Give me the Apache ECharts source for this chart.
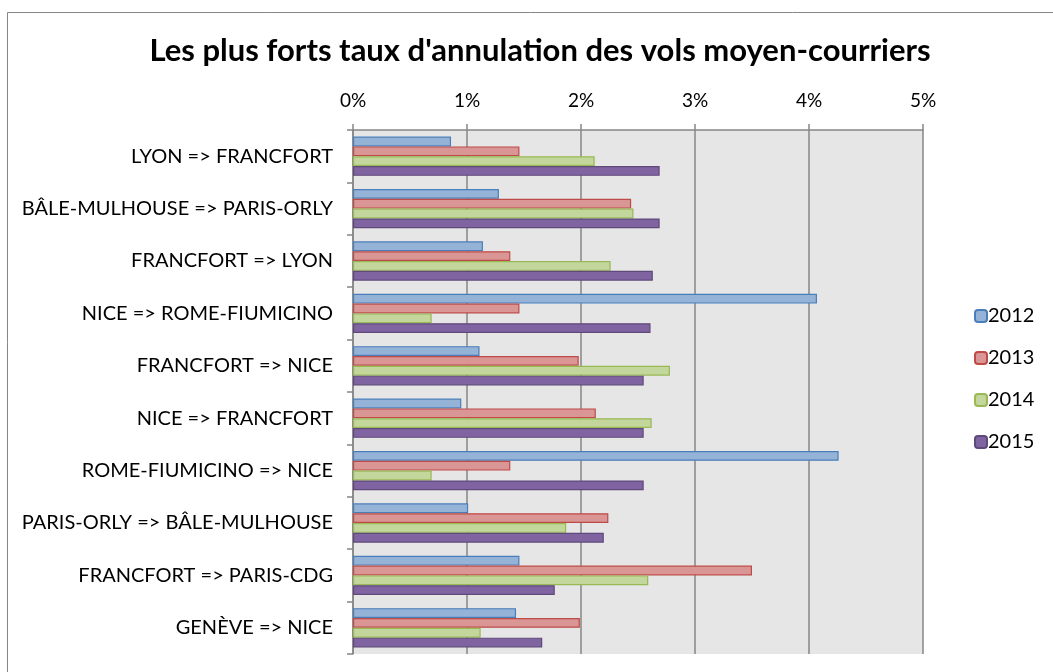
<!DOCTYPE html>
<html>
<head>
<meta charset="utf-8">
<script src="https://cdn.jsdelivr.net/npm/echarts@6/dist/echarts.min.js"></script>
<style>
html,body{margin:0;padding:0;background:#fff;}
#c{width:1053px;height:672px;}
</style>
</head>
<body>
<div id="c"></div>
<script>
var categories = [
  "LYON => FRANCFORT",
  "BÂLE-MULHOUSE => PARIS-ORLY",
  "FRANCFORT => LYON",
  "NICE => ROME-FIUMICINO",
  "FRANCFORT => NICE",
  "NICE => FRANCFORT",
  "ROME-FIUMICINO => NICE",
  "PARIS-ORLY => BÂLE-MULHOUSE",
  "FRANCFORT => PARIS-CDG",
  "GENÈVE => NICE"
];
var values2012 = [0.86, 1.28, 1.14, 4.07, 1.11, 0.95, 4.26, 1.01, 1.46, 1.43];
var values2013 = [1.46, 2.44, 1.38, 1.46, 1.98, 2.13, 1.38, 2.24, 3.50, 1.99];
var values2014 = [2.12, 2.46, 2.26, 0.69, 2.78, 2.62, 0.69, 1.87, 2.59, 1.12];
var values2015 = [2.69, 2.69, 2.63, 2.61, 2.55, 2.55, 2.55, 2.20, 1.77, 1.66];
var seriesNames = ["2012", "2013", "2014", "2015"];
var tickLabels = ["0%", "1%", "2%", "3%", "4%", "5%"];

var fills = ["#95b3d7", "#d99694", "#c3d69b", "#8064a2"];
var borders = ["#4a7ebb", "#be4b48", "#98b954", "#5f497a"];
var allValues = [values2012, values2013, values2014, values2015];

var chart = echarts.init(document.getElementById('c'), null, {renderer: 'canvas'});
var FONT = 'Lato, "Open Sans", sans-serif';

var series = seriesNames.map(function (n, i) {
  return {
    name: n,
    type: 'bar',
    data: allValues[i],
    barGap: '0%',
    barCategoryGap: '25%',
    itemStyle: {color: fills[i], borderColor: borders[i], borderWidth: 1.2},
    emphasis: {disabled: true}
  };
});

chart.setOption({
  animation: false,
  textStyle: {fontFamily: FONT},
  graphic: [{
    type: 'rect',
    shape: {x: 7.5, y: 12.5, width: 1100, height: 700},
    style: {fill: 'none', stroke: '#868686', lineWidth: 1},
    silent: true, z: 0
  }],
  title: {
    text: "Les plus forts taux d'annulation des vols moyen-courriers",
    left: 535,
    textAlign: 'center',
    top: 30,
    textStyle: {fontFamily: FONT, fontSize: 31, fontWeight: 'bold', color: '#000'}
  },
  legend: {
    orient: 'vertical',
    left: 969,
    top: 301,
    itemWidth: 12,
    itemHeight: 12,
    itemGap: 22,
    data: seriesNames,
    textStyle: {fontFamily: FONT, fontSize: 20, color: '#000', padding: [0, 0, 0, -4]}
  },
  grid: {
    left: 353, right: 130, top: 130, bottom: 18,
    show: true, backgroundColor: '#e6e6e6', borderWidth: 0,
    containLabel: false
  },
  xAxis: {
    type: 'value',
    position: 'top',
    min: 0, max: 5, interval: 1,
    axisLine: {show: true, lineStyle: {color: '#868686', width: 1.5}},
    axisTick: {show: true, length: 6, lineStyle: {color: '#868686', width: 1.5}},
    splitLine: {show: true, lineStyle: {color: '#868686', width: 1.5}},
    axisLabel: {
      margin: 20,
      fontFamily: FONT, fontSize: 19, color: '#000',
      formatter: function (v) { return tickLabels[Math.round(v)]; }
    }
  },
  yAxis: {
    type: 'category',
    data: categories,
    inverse: true,
    axisLine: {show: true, lineStyle: {color: '#868686', width: 1.5}},
    axisTick: {show: true, length: 6, lineStyle: {color: '#868686', width: 1.5}},
    axisLabel: {margin: 20, fontFamily: FONT, fontSize: 20, color: '#000'}
  },
  series: series
});
</script>
</body>
</html>
